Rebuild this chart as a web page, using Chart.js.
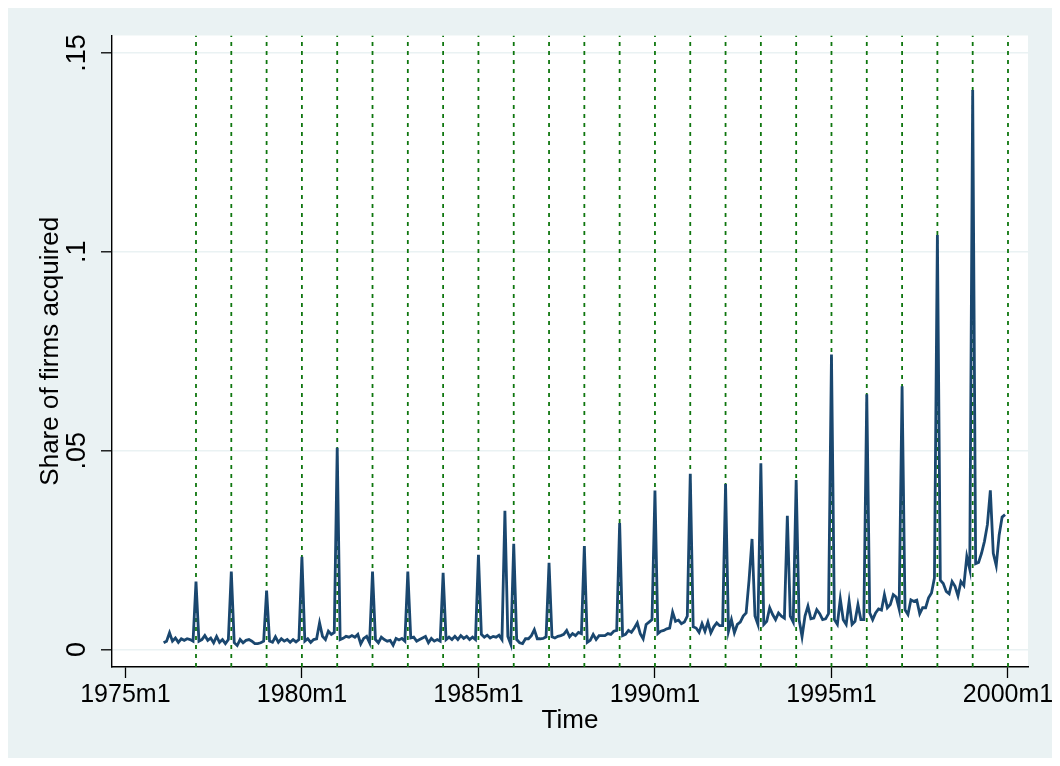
<!DOCTYPE html>
<html>
<head>
<meta charset="utf-8">
<script src="https://cdn.jsdelivr.net/npm/chart.js@4.4.1/dist/chart.umd.min.js"></script>
<style>
  html, body { margin: 0; padding: 0; background: #ffffff; }
  #wrap { width: 1060px; height: 766px; }
</style>
</head>
<body>
<div id="wrap"><canvas id="acq" width="1060" height="766"></canvas></div>
<script>
// months counted from 1975m1 (= 0); series starts in 1976m2
const firstMonth = 13;
const shareAcquired = [
  // 1976m2 - 1976m12
  .0017, .0021, .0042, .0021, .0029, .0018, .0027, .0023, .0027, .0025, .0021,
  // 1977
  .0171, .0021, .0025, .0035, .0023, .0029, .0017, .0033, .0018, .0025, .0015, .0025,
  // 1978
  .0196, .0017, .0010, .0025, .0017, .0023, .0025, .0021, .0015, .0015, .0017, .0021,
  // 1979
  .0148, .0021, .0018, .0032, .0018, .0027, .0021, .0025, .0018, .0025, .0019, .0025,
  // 1980
  .0233, .0021, .0027, .0018, .0025, .0027, .0067, .0033, .0025, .0046, .0038, .0043,
  // 1981
  .0507, .0025, .0028, .0033, .0031, .0035, .0031, .0038, .0014, .0028, .0033, .0017,
  // 1982
  .0196, .0025, .0017, .0031, .0025, .0021, .0023, .0011, .0028, .0024, .0028, .0021,
  // 1983
  .0196, .0029, .0031, .0021, .0025, .0029, .0033, .0017, .0028, .0021, .0025, .0021,
  // 1984
  .0193, .0025, .0031, .0025, .0033, .0025, .0035, .0028, .0033, .0025, .0031, .0025,
  // 1985
  .0238, .0038, .0031, .0036, .0029, .0033, .0031, .0036, .0025, .0349, .0033, .0013,
  // 1986
  .0266, .0025, .0017, .0015, .0027, .0027, .0035, .0050, .0027, .0027, .0028, .0032,
  // 1987
  .0218, .0032, .0029, .0033, .0035, .0038, .0048, .0032, .0040, .0035, .0043, .0040,
  // 1988
  .0260, .0018, .0023, .0038, .0025, .0035, .0035, .0035, .0040, .0038, .0046, .0048,
  // 1989
  .0318, .0035, .0038, .0048, .0043, .0054, .0067, .0040, .0027, .0063, .0069, .0075,
  // 1990
  .0400, .0040, .0046, .0048, .0052, .0054, .0094, .0071, .0074, .0065, .0069, .0084,
  // 1991
  .0442, .0057, .0054, .0043, .0065, .0046, .0069, .0042, .0057, .0067, .0060, .0060,
  // 1992
  .0416, .0046, .0075, .0042, .0063, .0069, .0084, .0092, .0176, .0278, .0084, .0063,
  // 1993
  .0468, .0063, .0071, .0105, .0088, .0075, .0092, .0084, .0079, .0336, .0084, .0069,
  // 1994
  .0426, .0075, .0032, .0084, .0109, .0077, .0079, .0100, .0090, .0075, .0077, .0090,
  // 1995
  .0742, .0075, .0063, .0127, .0075, .0063, .0121, .0063, .0071, .0113, .0075, .0075,
  // 1996
  .0642, .0092, .0075, .0092, .0102, .0099, .0138, .0105, .0113, .0138, .0132, .0102,
  // 1997
  .0662, .0100, .0088, .0125, .0121, .0124, .0090, .0105, .0105, .0130, .0142, .0180,
  // 1998
  .1042, .0174, .0166, .0146, .0140, .0171, .0159, .0135, .0171, .0161, .0234, .0202,
  // 1999
  .1407, .0216, .0219, .0242, .0272, .0314, .0400, .0242, .0211, .0288, .0333, .0339
];

const xTickValues = [0, 60, 120, 180, 240, 300];
const xTickLabels = ['1975m1', '1980m1', '1985m1', '1990m1', '1995m1', '2000m1'];
const yTickValues = [0, 0.05, 0.1, 0.15];
const yTickLabels = ['0', '.05', '.1', '.15'];
// dashed reference lines at every January, 1977m1 - 2000m1
const januaryLines = [24, 36, 48, 60, 72, 84, 96, 108, 120, 132, 144, 156,
  168, 180, 192, 204, 216, 228, 240, 252, 264, 276, 288, 300];

const xMin = -4.55, xMax = 306.8;
const yMin = -0.0044, yMax = 0.1544;

Chart.defaults.font.family = '"Liberation Sans", Arial, Helvetica, sans-serif';
Chart.defaults.color = '#000000';

const backdrop = {
  id: 'backdrop',
  beforeDraw(chart) {
    const { ctx, chartArea: a, width, height } = chart;
    ctx.save();
    ctx.fillStyle = '#ffffff';
    ctx.fillRect(0, 0, width, height);
    ctx.fillStyle = '#EAF2F3';
    ctx.fillRect(8, 8, width - 16, height - 16);
    ctx.fillStyle = '#ffffff';
    ctx.fillRect(a.left, a.top, a.right - a.left, a.bottom - a.top);
    ctx.restore();
  }
};

const seriesPoints = shareAcquired.map((v, i) => ({ x: firstMonth + i, y: v }));

const lineSets = januaryLines.map(m => ({
  data: [{ x: m, y: yMin }, { x: m, y: yMax }],
  borderColor: '#0E760E',
  borderWidth: 1.8,
  borderDash: [4, 5],
  pointRadius: 0,
  order: 2
}));

new Chart(document.getElementById('acq'), {
  type: 'line',
  data: {
    datasets: [{
      label: 'Share of firms acquired',
      data: seriesPoints,
      borderColor: '#1A476F',
      borderWidth: 2.8,
      pointRadius: 0,
      tension: 0,
      order: 1
    }, ...lineSets]
  },
  options: {
    responsive: false,
    animation: false,
    devicePixelRatio: 1,
    layout: { padding: { top: 35.5, right: 32, left: 0, bottom: 0 } },
    plugins: {
      legend: { display: false },
      tooltip: { enabled: false }
    },
    scales: {
      x: {
        type: 'linear',
        min: xMin,
        max: xMax,
        afterFit: s => { s.height = 99; },
        afterBuildTicks: s => { s.ticks = xTickValues.map(v => ({ value: v })); },
        ticks: {
          autoSkip: false,
          maxRotation: 0,
          padding: 2,
          font: { size: 25 },
          callback: (v, i) => xTickLabels[i]
        },
        grid: {
          drawOnChartArea: false,
          drawTicks: true,
          tickLength: 11,
          tickColor: '#000000',
          tickWidth: 1.3
        },
        border: { display: true, color: '#000000', width: 1.4 },
        title: {
          display: true,
          text: 'Time',
          font: { size: 26 },
          padding: { top: 0, bottom: 30 }
        }
      },
      y: {
        type: 'linear',
        min: yMin,
        max: yMax,
        afterFit: s => { s.width = 112; },
        afterBuildTicks: s => { s.ticks = yTickValues.map(v => ({ value: v })); },
        ticks: {
          autoSkip: false,
          minRotation: 90,
          maxRotation: 90,
          crossAlign: 'center',
          padding: 5,
          font: { size: 27 },
          callback: (v, i) => yTickLabels[i]
        },
        grid: {
          color: '#EAF2F3',
          lineWidth: 1.6,
          drawTicks: true,
          tickLength: 11,
          tickColor: '#000000',
          tickWidth: 1.3
        },
        border: { display: true, color: '#000000', width: 1.4 },
        title: {
          display: true,
          text: 'Share of firms acquired',
          font: { size: 26 },
          padding: { top: 35, bottom: 0 }
        }
      }
    }
  },
  plugins: [backdrop]
});
</script>
</body>
</html>
